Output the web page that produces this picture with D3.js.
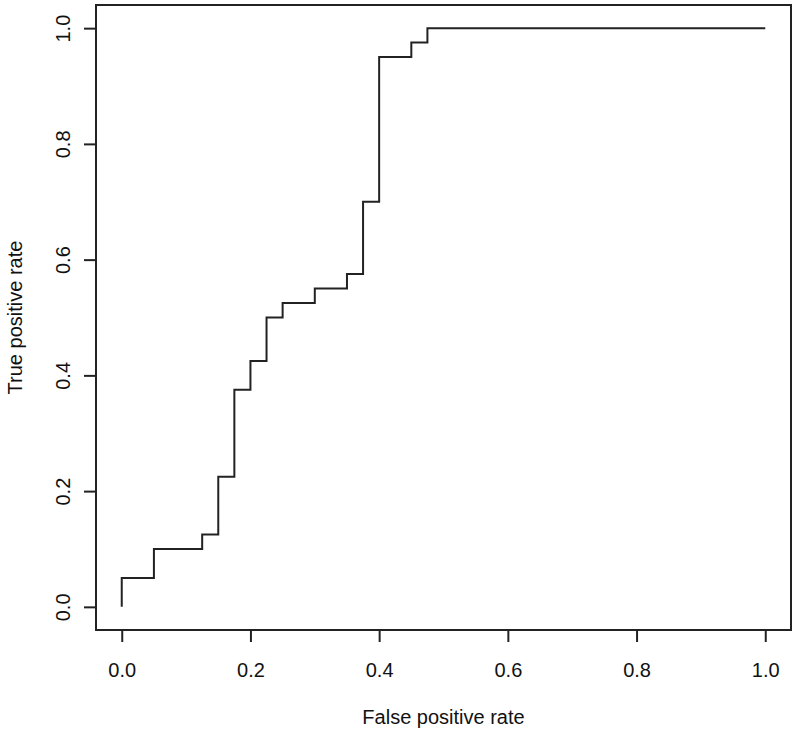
<!DOCTYPE html>
<html>
<head>
<meta charset="utf-8">
<script src="https://cdn.jsdelivr.net/npm/d3@7"></script>
<style>
  body { margin: 0; background: #fff; }
  text { font-family: "Liberation Sans", Arial, Helvetica, sans-serif; fill: #111; }
</style>
</head>
<body>
<div id="chart"></div>
<script>
// ROC curve corners (false positive rate, true positive rate)
var fpr = [0, 0, 0.05, 0.05, 0.125, 0.125, 0.15, 0.15, 0.175, 0.175, 0.2, 0.2, 0.225, 0.225,
           0.25, 0.25, 0.3, 0.3, 0.35, 0.35, 0.375, 0.375, 0.4, 0.4, 0.45, 0.45, 0.475, 0.475, 1];
var tpr = [0, 0.05, 0.05, 0.1, 0.1, 0.125, 0.125, 0.225, 0.225, 0.375, 0.375, 0.425, 0.425, 0.5,
           0.5, 0.525, 0.525, 0.55, 0.55, 0.575, 0.575, 0.7, 0.7, 0.95, 0.95, 0.975, 0.975, 1, 1];
var xTicks = [0, 0.2, 0.4, 0.6, 0.8, 1.0];
var yTicks = [0, 0.2, 0.4, 0.6, 0.8, 1.0];
var xTitle = "False positive rate";
var yTitle = "True positive rate";

var width = 796,
    height = 733;

// plot box like R: data range padded by 4%
var box = {left: 96, right: 791, top: 5, bottom: 630};
var padX = (box.right - box.left) * 0.04 / 1.08,
    padY = (box.bottom - box.top) * 0.04 / 1.08;

var x = d3.scaleLinear()
          .domain([0, 1])
          .range([box.left + padX, box.right - padX]);

var y = d3.scaleLinear()
          .domain([0, 1])
          .range([box.bottom - padY, box.top + padY]);

var svg = d3.select("#chart")
            .append("svg")
              .attr("width", width)
              .attr("height", height);

// Plot frame
svg.append("rect")
  .attr("x", box.left)
  .attr("y", box.top)
  .attr("width", box.right - box.left)
  .attr("height", box.bottom - box.top)
  .attr("fill", "none")
  .attr("stroke", "#222")
  .attr("stroke-width", 2);

// x axis
var xAxis = svg.append("g")
  .attr("transform", "translate(0," + box.bottom + ")")
  .call(d3.axisBottom(x)
          .tickValues(xTicks)
          .tickFormat(d3.format(".1f"))
          .tickSizeOuter(0)
          .tickSizeInner(12)
          .tickPadding(21));
xAxis.select(".domain").remove();
xAxis.selectAll(".tick line").attr("stroke", "#222").attr("stroke-width", 2);
xAxis.selectAll("text").attr("font-size", 20).attr("fill", "#111")
  .attr("font-family", "'Liberation Sans', Arial, sans-serif");

// y axis
var yAxis = svg.append("g")
  .attr("transform", "translate(" + box.left + ",0)")
  .call(d3.axisLeft(y)
          .tickValues(yTicks)
          .tickFormat(d3.format(".1f"))
          .tickSizeOuter(0)
          .tickSizeInner(12));
yAxis.select(".domain").remove();
yAxis.selectAll(".tick line").attr("stroke", "#222").attr("stroke-width", 2);
yAxis.selectAll("text")
  .attr("font-size", 20)
  .attr("fill", "#111")
  .attr("font-family", "'Liberation Sans', Arial, sans-serif")
  .attr("x", null)
  .attr("dy", null)
  .attr("text-anchor", "middle")
  .attr("transform", "translate(-26,0) rotate(-90)");

// ROC line
var points = fpr.map(function(d, i) { return [d, tpr[i]]; });
var line = d3.line()
             .x(function(d) { return x(d[0]); })
             .y(function(d) { return y(d[1]); });

svg.append("path")
  .datum(points)
  .attr("d", line)
  .attr("fill", "none")
  .attr("stroke", "#222")
  .attr("stroke-width", 2);

// Axis titles
svg.append("text")
  .attr("x", (box.left + box.right) / 2)
  .attr("y", 724)
  .attr("text-anchor", "middle")
  .attr("font-size", 20)
  .text(xTitle);

svg.append("text")
  .attr("transform", "translate(22," + ((box.top + box.bottom) / 2) + ") rotate(-90)")
  .attr("text-anchor", "middle")
  .attr("font-size", 20)
  .text(yTitle);
</script>
</body>
</html>
